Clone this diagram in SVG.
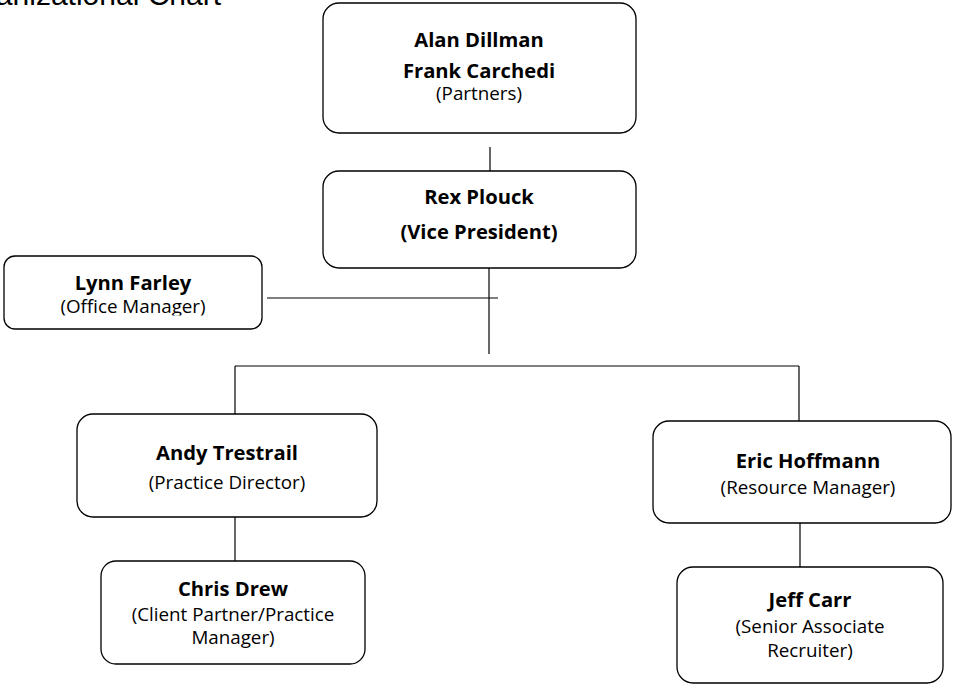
<svg xmlns="http://www.w3.org/2000/svg" width="953" height="685" viewBox="0 0 953 685">
<style>
.box{fill:#fff;stroke:#000;stroke-width:1.3}
.ln{stroke:#000;stroke-width:1.2;fill:none}
.b{font-family:"Open Sans",Lato,sans-serif;font-weight:bold;font-size:20.2px;fill:#000;text-anchor:middle}
.r{font-family:"Open Sans",Lato,sans-serif;font-size:18.8px;fill:#000;text-anchor:middle}
.title{font-family:"Liberation Sans",Arial,sans-serif;font-size:30px;fill:#000;text-anchor:end}
</style>
<defs>
<clipPath id="lynnclip"><rect x="0" y="250" width="270" height="65.5"/></clipPath>
</defs>
<rect width="953" height="685" fill="#fff"/>
<text class="title" x="221" y="4.5">Organizational Chart</text>
<g id="connectors">
<line class="ln" x1="490" y1="147" x2="490" y2="179"/>
<line class="ln" x1="489" y1="268" x2="489" y2="354"/>
<line class="ln" x1="267" y1="298" x2="498" y2="298"/>
<line class="ln" x1="235" y1="366" x2="799" y2="366"/>
<line class="ln" x1="235" y1="366" x2="235" y2="414"/>
<line class="ln" x1="799" y1="366" x2="799" y2="421"/>
<line class="ln" x1="235" y1="517" x2="235" y2="561"/>
<line class="ln" x1="800" y1="523" x2="800" y2="567"/>
</g>
<g id="partners">
<rect class="box" x="323" y="3" width="313" height="130" rx="16"/>
<text class="b" x="479" y="47">Alan Dillman</text>
<text class="b" x="479" y="78">Frank Carchedi</text>
<text class="r" x="479" y="100">(Partners)</text>
</g>
<g id="vp">
<rect class="box" x="323" y="171" width="313" height="97" rx="16"/>
<text class="b" x="479" y="204">Rex Plouck</text>
<text class="b" x="479" y="239">(Vice President)</text>
</g>
<g id="office-manager">
<rect class="box" x="4" y="256" width="258" height="73" rx="11"/>
<g clip-path="url(#lynnclip)">
<text class="b" x="133" y="290">Lynn Farley</text>
<text class="r" x="133" y="313">(Office Manager)</text>
</g>
</g>
<g id="practice-director">
<rect class="box" x="77" y="414" width="300" height="103" rx="16"/>
<text class="b" x="227" y="460">Andy Trestrail</text>
<text class="r" x="227" y="489">(Practice Director)</text>
</g>
<g id="resource-manager">
<rect class="box" x="653" y="421" width="298" height="102" rx="16"/>
<text class="b" x="808" y="468">Eric Hoffmann</text>
<text class="r" x="808" y="494">(Resource Manager)</text>
</g>
<g id="client-partner">
<rect class="box" x="101" y="561" width="264" height="103" rx="15"/>
<text class="b" x="233" y="596">Chris Drew</text>
<text class="r" x="233" y="621">(Client Partner/Practice</text>
<text class="r" x="233" y="644">Manager)</text>
</g>
<g id="recruiter">
<rect class="box" x="677" y="567" width="266" height="116" rx="16"/>
<text class="b" x="810" y="607">Jeff Carr</text>
<text class="r" x="810" y="633">(Senior Associate</text>
<text class="r" x="810" y="657">Recruiter)</text>
</g>
</svg>
